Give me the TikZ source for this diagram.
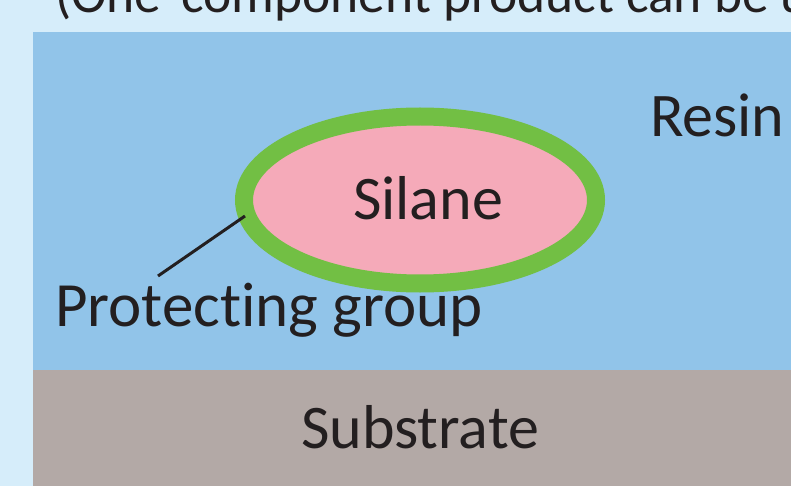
\documentclass[tikz,border=0pt]{standalone}
\usepackage{fontspec}
\setmainfont{Carlito}[Ligatures={NoCommon}]
\usetikzlibrary{shapes.geometric}
\definecolor{bgblue}{HTML}{D6EDFA}
\definecolor{resinblue}{HTML}{91C4E9}
\definecolor{subbrown}{HTML}{B3A9A6}
\definecolor{ringgreen}{HTML}{72BF44}
\definecolor{silpink}{HTML}{F5AAB9}
\definecolor{ink}{HTML}{231F20}
\tikzset{
  lbl/.style={inner sep=0pt, outer sep=0pt, anchor=base west, text=ink, font=\fontsize{62}{70}\selectfont},
  toplbl/.style={inner sep=0pt, outer sep=0pt, anchor=base west, text=ink, font=\fontsize{53.5}{60}\selectfont},
  ring/.style={ellipse, draw=ringgreen, fill=silpink, line width=18pt, inner sep=0pt,
    minimum width=352pt, minimum height=167pt},
  leader/.style={draw=ink, line width=3pt}
}
\begin{document}
\begin{tikzpicture}[x=1pt,y=-1pt]
\useasboundingbox (0,0) rectangle (791,486);
\clip (0,0) rectangle (791,486);
\fill[bgblue] (0,0) rectangle (791,486);
\fill[resinblue] (33,32) rectangle (791,370);
\fill[subbrown] (33,370) rectangle (791,486);
\node[toplbl] (top) at (55,13) {(One\hspace{8pt} component product can be used};
\node[ring] (sil) at (420,200) {};
\node[lbl] (silt) at (353,219) {Silane};
\node[lbl] (resin) at (650,137) {Resin};
\node[lbl, font=\fontsize{63}{70}\selectfont] (prot) at (55,326) {Protecting group};
\node[lbl] (sub) at (301,448) {Substrate};
\coordinate (pa) at (158,276);
\coordinate (pb) at (245,216);
\draw[leader] (pa) -- (pb);
\end{tikzpicture}
\end{document}
